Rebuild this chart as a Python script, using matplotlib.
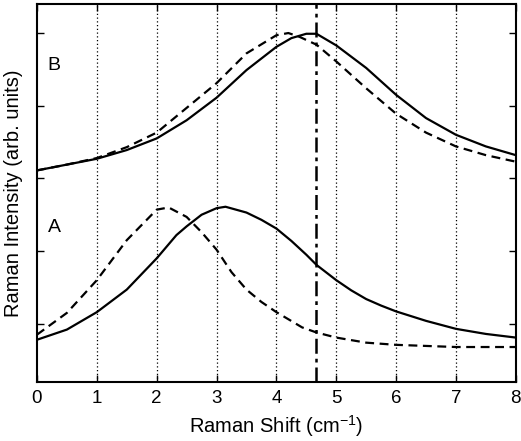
import matplotlib
matplotlib.use("Agg")
import matplotlib.pyplot as plt
import numpy as np

plt.rcParams['font.family'] = ['Liberation Sans', 'DejaVu Sans']
plt.rcParams['mathtext.fontset'] = 'custom'
plt.rcParams['mathtext.rm'] = 'Liberation Sans'

# spectrum A (lower pair)
xA_solid = [0, 0.5, 1, 1.5, 2, 2.33, 2.5, 2.75, 3, 3.15, 3.5, 3.75, 4, 4.25, 4.5,
            4.67, 5, 5.25, 5.5, 5.75, 6, 6.5, 7, 7.5, 8]
yA_solid = [-0.22, -0.08, 0.16, 0.47, 0.90, 1.22, 1.34, 1.50, 1.59, 1.61, 1.53, 1.43,
            1.31, 1.14, 0.95, 0.81, 0.60, 0.46, 0.34, 0.25, 0.17, 0.04, -0.07, -0.14, -0.19]
xA_dash = [0, 0.5, 1, 1.5, 2, 2.2, 2.5, 2.75, 3, 3.25, 3.5, 3.75, 4, 4.43, 4.67, 5,
           5.5, 6, 7, 8]
yA_dash = [-0.15, 0.15, 0.60, 1.15, 1.57, 1.60, 1.47, 1.26, 1.02, 0.71, 0.47, 0.30,
           0.16, -0.05, -0.12, -0.19, -0.26, -0.29, -0.32, -0.32]

# spectrum B (upper pair)
xB_solid = [0, 0.5, 1, 1.5, 2, 2.5, 3, 3.5, 4, 4.25, 4.5, 4.67, 5, 5.5, 6, 6.5, 7, 7.5, 8]
yB_solid = [2.11, 2.19, 2.27, 2.39, 2.55, 2.80, 3.11, 3.49, 3.81, 3.93, 3.99, 3.99,
            3.83, 3.52, 3.15, 2.83, 2.60, 2.44, 2.32]
xB_dash = [0, 0.5, 1, 1.5, 2, 2.5, 3, 3.5, 4, 4.2, 4.38, 4.67, 5, 5.5, 6, 6.5, 7, 7.5, 8]
yB_dash = [2.11, 2.19, 2.28, 2.43, 2.63, 2.97, 3.31, 3.72, 3.97, 4.0, 3.95, 3.84,
           3.61, 3.24, 2.89, 2.63, 2.44, 2.32, 2.23]

marker_x = 4.67

fig = plt.figure(figsize=(5.21, 4.41), dpi=100)
ax = fig.add_axes([0.071, 0.134, 0.919, 0.857])

for gx in range(1, 8):
    ax.axvline(gx, color='k', ls=(0, (1, 2)), lw=0.9, zorder=1)

ax.plot(xA_solid, yA_solid, 'k-', lw=1.6)
ax.plot(xA_dash, yA_dash, 'k', ls=(0, (4, 2.5)), lw=1.6)
ax.plot(xB_solid, yB_solid, 'k-', lw=1.6)
ax.plot(xB_dash, yB_dash, 'k', ls=(0, (4, 2.5)), lw=1.6)
ax.axvline(marker_x, color='k', ls=(0, (6, 2, 1.5, 2)), lw=1.8)

ax.text(0.18, 1.32, 'A', fontsize=14, va='center')
ax.text(0.18, 3.55, 'B', fontsize=14, va='center')

ax.set_xlim(0, 8)
ax.set_ylim(-0.8, 4.4)
ax.set_xticks(range(0, 9))
ax.set_yticks(range(0, 5))
ax.set_yticklabels([])
ax.tick_params(direction='in', length=5, width=1, top=True, right=True,
               labelsize=13.5, pad=6)
for s in ax.spines.values():
    s.set_linewidth(1.5)

ax.set_xlabel('Raman Shift (cm$^{-1}$)', fontsize=14.5, labelpad=4)
ax.set_ylabel('Raman Intensity (arb. units)', fontsize=14.5, labelpad=4)

fig.savefig('out.png', dpi=100)
